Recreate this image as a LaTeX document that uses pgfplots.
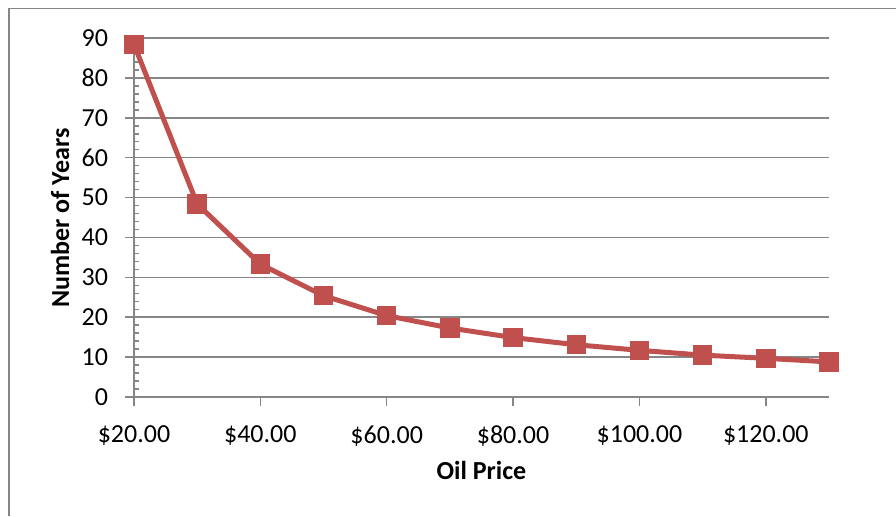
\documentclass[border=0pt]{standalone}
\usepackage{pgfplots}
\pgfplotsset{compat=1.18}
\usepackage{fontspec}
\setmainfont{Carlito}
\definecolor{excelred}{RGB}{192,80,77}
\definecolor{gridgray}{RGB}{134,134,134}
\begin{document}
\fontsize{13}{15.6}\selectfont
\begin{tikzpicture}
% page area and the chart frame (left and top edges)
\path[use as bounding box] (-67pt,-59.5pt) rectangle (381pt,198.5pt);
\draw[gridgray, line width=0.75pt] (-62.5pt,-59.5pt) -- (-62.5pt,194.3pt) -- (381pt,194.3pt);
\begin{axis}[
  at={(0,0)}, anchor=south west,
  width=347.5pt, height=179.5pt, scale only axis,
  xmin=20, xmax=130, ymin=0, ymax=90,
  axis x line*=bottom, axis y line*=left,
  axis line style={gridgray, line width=0.75pt, -},
  xtick={20,40,60,80,100,120},
  xticklabels={\$20.00,\$40.00,\$60.00,\$80.00,\$100.00,\$120.00},
  ytick={0,10,...,90},
  minor y tick num=4,
  tick align=outside,
  major tick length=4.5pt,
  minor tick length=-2.5pt,
  tick style={gridgray, line width=0.75pt},
  ymajorgrids,
  grid style={gridgray, line width=0.75pt},
  /pgf/number format/assume math mode=true,
  ticklabel style={font=\fontsize{13}{15.6}\selectfont, text=black},
  xticklabel style={yshift=-5.5pt},
  yticklabel style={xshift=-4pt},
  xlabel={\textbf{Oil Price}},
  ylabel={\textbf{Number of Years}},
  xlabel style={at={(axis description cs:0.5,-0.2033)}, anchor=center, font=\fontsize{13}{15.6}\selectfont},
  ylabel style={at={(axis description cs:-0.1065,0.4986)}, anchor=center, font=\fontsize{13}{15.6}\selectfont},
  clip=false,
]
\addplot[excelred, line width=2.5pt, mark=square*,
  mark size=4.6pt, mark options={fill=excelred, draw=excelred, line width=0.5pt}]
  coordinates {
  (20,88.4) (30,48.4) (40,33.3) (50,25.4) (60,20.4) (70,17.3)
  (80,14.9) (90,13.1) (100,11.7) (110,10.5) (120,9.7) (130,8.8)
  };
\end{axis}
\end{tikzpicture}
\end{document}
